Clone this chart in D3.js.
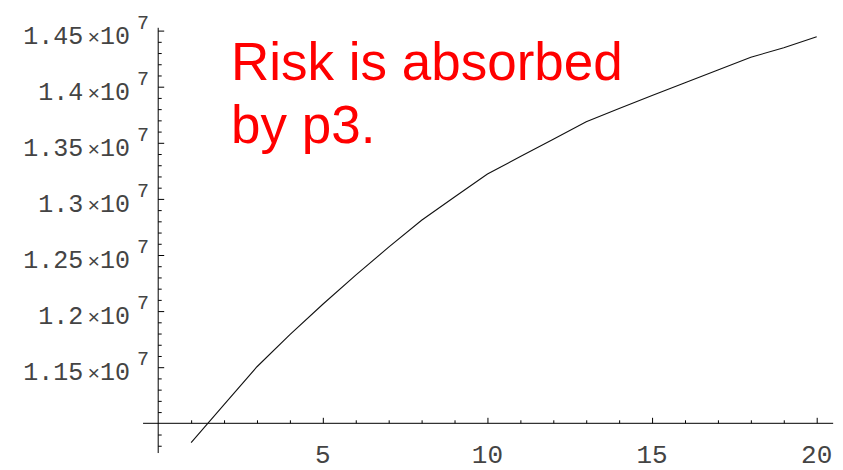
<!DOCTYPE html>
<html><head><meta charset="utf-8">
<script src="https://cdn.jsdelivr.net/npm/d3@7"></script>
<style>body{margin:0;background:#fff}svg{display:block}</style>
</head><body>
<svg id="c" width="843" height="470"></svg>
<script>
const xValues = [1,2,3,4,5,6,7,8,9,10,11,12,13,14,15,16,17,18,19,20];
const yValues = [10827000,11166000,11504000,11790000,12061000,12320000,12570000,12810000,13017000,13222000,
                 13377000,13532000,13688000,13806000,13922000,14036000,14149000,14262000,14348000,14446000];
const xTickLabels = ["5","10","15","20"];
const xTickLabelValues = [5,10,15,20];
const yTickLabelValues = [1.15e7,1.2e7,1.25e7,1.3e7,1.35e7,1.4e7,1.45e7];
const yTickLabels = ["1.15","1.2","1.25","1.3","1.35","1.4","1.45"];
const yExponent = "7";
const annotationLines = ["Risk is absorbed","by p3."];

const svg = d3.select("#c");
const x = d3.scaleLinear().domain([0,20]).range([158.2,816.7]);
const y = d3.scaleLinear().domain([1.1e7,1.45e7]).range([423.3,30.6]);
const ink = "#000";
const mono = "'Liberation Mono', 'Courier New', 'DejaVu Sans Mono', monospace";
const labelFill = "#444";

const yMinor = d3.range(108,146).map(d=>d*1e5).filter(v=>Math.round(v/1e5)%5!==0);
const yMajor = d3.range(108,146).map(d=>d*1e5).filter(v=>Math.round(v/1e5)%5===0 && v>1.1e7);
const xMinor = d3.range(1,21).filter(d=>d%5!==0);
const xMajor = d3.range(1,21).filter(d=>d%5===0);

// y axis ticks (pointing right, inside)
const gy = svg.append("g").attr("transform",`translate(${x(0)},0)`);
gy.append("g").call(d3.axisRight(y).tickValues(yMinor).tickSize(3.5).tickFormat(""));
gy.append("g").call(d3.axisRight(y).tickValues(yMajor).tickSize(6).tickFormat(""));
gy.selectAll(".domain").remove();
gy.selectAll("line").attr("stroke",ink).attr("stroke-width",1);
gy.append("line").attr("x1",0).attr("x2",0).attr("y1",y(1.0735e7)).attr("y2",y(1.4525e7))
  .attr("stroke",ink).attr("stroke-width",1);

// x axis ticks (pointing up)
const gx = svg.append("g").attr("transform",`translate(0,${y(1.1e7)})`);
gx.append("g").call(d3.axisTop(x).tickValues(xMinor).tickSize(3).tickFormat(""));
gx.append("g").call(d3.axisTop(x).tickValues(xMajor).tickSize(5.5).tickFormat(""));
gx.selectAll(".domain").remove();
gx.selectAll("line").attr("stroke",ink).attr("stroke-width",1);
gx.append("line").attr("x1",x(-0.46)).attr("x2",x(20.5)).attr("y1",0).attr("y2",0)
  .attr("stroke",ink).attr("stroke-width",1);

// x labels
svg.append("g").selectAll("text").data(xTickLabelValues).join("text")
  .attr("x",d=>x(d)).attr("y",463)
  .attr("text-anchor","middle")
  .attr("font-family",mono)
  .attr("font-size",26).attr("fill",labelFill)
  .text((d,i)=>xTickLabels[i]);

// y labels: mantissa ×10 (anchored at end) + superscript exponent
const ylg = svg.append("g").selectAll("g").data(yTickLabelValues).join("g")
  .attr("transform",d=>`translate(0,${y(d)+13})`);
const base = ylg.append("text").attr("x",130).attr("y",0)
  .attr("text-anchor","end").attr("font-family",mono)
  .attr("font-size",25).attr("fill",labelFill);
base.append("tspan").text((d,i)=>yTickLabels[i]);
base.append("tspan").attr("dx",4).attr("font-size",21).text("\u00d7");
base.append("tspan").text("10");
ylg.append("text").attr("x",137).attr("y",-15)
  .attr("font-family",mono).attr("font-size",20).attr("fill",labelFill)
  .text(yExponent);

// data line
const line = d3.line().x((d,i)=>x(xValues[i])).y(d=>y(d));
svg.append("path").datum(yValues).attr("d",line)
  .attr("fill","none").attr("stroke","#111").attr("stroke-width",1.1);

// annotation
const ann = svg.append("text").attr("font-family","'Liberation Sans', Arial, sans-serif")
  .attr("font-size",53).attr("fill","#ff0000");
ann.selectAll("tspan").data(annotationLines).join("tspan")
  .attr("x",231).attr("y",(d,i)=>80+i*63).text(d=>d);
</script>
</body></html>
